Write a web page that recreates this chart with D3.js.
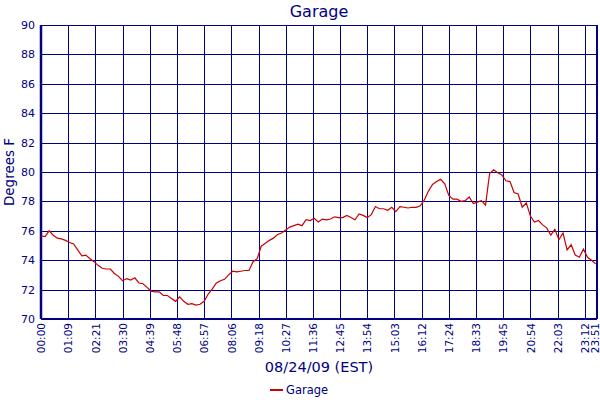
<!DOCTYPE html>
<html>
<head>
<meta charset="utf-8">
<script src="https://cdn.jsdelivr.net/npm/d3@7"></script>
<style>
  body { margin: 0; background: #fff; }
  text { font-family: "DejaVu Sans", Verdana, sans-serif; fill: #000080; }
</style>
</head>
<body>
<div id="chart"></div>
<script>
// temperature readings, one value every 3 samples (sample index = 3 * i)
const temps = [
    75.65, 75.6, 76.0, 75.7, 75.5, 75.45, 75.35, 75.2, 75.1, 74.7,
    74.3, 74.35, 74.1, 73.9, 73.65, 73.45, 73.4, 73.4, 73.1, 72.9,
    72.6, 72.75, 72.65, 72.8, 72.45, 72.4, 72.15, 71.9, 71.85, 71.85,
    71.6, 71.6, 71.4, 71.2, 71.5, 71.2, 71.0, 71.05, 70.95, 71.0,
    71.2, 71.7, 72.05, 72.45, 72.6, 72.7, 73.0, 73.25, 73.2, 73.25,
    73.3, 73.3, 73.9, 74.1, 74.95, 75.15, 75.35, 75.5, 75.75, 75.85,
    76.05, 76.25, 76.35, 76.45, 76.35, 76.75, 76.7, 76.85, 76.6, 76.8,
    76.75, 76.8, 76.95, 76.9, 76.9, 77.05, 76.9, 76.75, 77.15, 77.05,
    76.9, 77.1, 77.65, 77.5, 77.5, 77.4, 77.6, 77.3, 77.65, 77.6,
    77.55, 77.6, 77.6, 77.7, 78.1, 78.7, 79.15, 79.35, 79.5, 79.2,
    78.4, 78.15, 78.15, 78.0, 78.05, 78.3, 77.85, 77.95, 78.05, 77.75,
    79.9, 80.15, 79.95, 79.8, 79.4, 79.35, 78.6, 78.5, 77.6, 77.9,
    77.0, 76.6, 76.7, 76.4, 76.2, 75.7, 76.1, 75.4, 75.85, 74.7,
    75.05, 74.35, 74.2, 74.75, 74.2, 74.0, 73.75
];
const sampleStep = 3;
const lastSample = 409;

const tickSamples = [0, 20, 40, 60, 80, 100, 120, 140, 160, 180, 200,
    220, 240, 260, 280, 300, 320, 340, 360, 380, 400, 409];
const tickLabels = ["00:00", "01:09", "02:21", "03:30", "04:39", "05:48", "06:57",
    "08:06", "09:18", "10:27", "11:36", "12:45", "13:54", "15:03", "16:12",
    "17:24", "18:33", "19:45", "20:54", "22:03", "23:12", "23:51"];
const yTicks = [70, 72, 74, 76, 78, 80, 82, 84, 86, 88, 90];

const navy = "#000080";
const margin = {top: 25, right: 3, bottom: 81, left: 41};
const W = 600, H = 400;
const width = W - margin.left - margin.right;
const height = H - margin.top - margin.bottom;

const svg = d3.select("#chart").append("svg")
    .attr("width", W)
    .attr("height", H);

const g = svg.append("g")
    .attr("transform", `translate(${margin.left},${margin.top})`);

const x = d3.scaleLinear().domain([0, lastSample]).range([0, width]);
const y = d3.scaleLinear().domain([70, 90]).range([height, 0]);

// horizontal grid + y labels
const yAxis = g.append("g")
    .call(d3.axisLeft(y).tickValues(yTicks).tickSize(-width).tickSizeOuter(0).tickPadding(6));
yAxis.select(".domain").remove();
yAxis.selectAll("line").attr("stroke", navy).attr("shape-rendering", "crispEdges");
yAxis.selectAll("text").style("font-size", "11px").attr("fill", navy);

// vertical grid + x labels
const xAxis = g.append("g")
    .attr("transform", `translate(0,${height})`)
    .call(d3.axisBottom(x).tickValues(tickSamples)
        .tickFormat((d, i) => tickLabels[i])
        .tickSize(-height).tickSizeOuter(0));
xAxis.select(".domain").remove();
xAxis.selectAll("line").attr("stroke", navy).attr("shape-rendering", "crispEdges");
xAxis.selectAll("text")
    .style("font-size", "10.5px")
    .attr("fill", navy)
    .attr("text-anchor", "end")
    .attr("transform", "rotate(-90)")
    .attr("x", -4)
    .attr("y", (d, i) => i === tickSamples.length - 1 ? -2 : 0)
    .attr("dy", "0.35em");

// frame: thicker left, bottom and right edges
g.append("line").attr("x1", 0).attr("x2", width).attr("y1", 0).attr("y2", 0)
    .attr("stroke", navy).attr("shape-rendering", "crispEdges");
g.append("line").attr("x1", 0).attr("x2", 0).attr("y1", 0).attr("y2", height)
    .attr("stroke", navy).attr("stroke-width", 2.5);
g.append("line").attr("x1", width).attr("x2", width).attr("y1", 0).attr("y2", height)
    .attr("stroke", navy).attr("stroke-width", 2);
g.append("line").attr("x1", 0).attr("x2", width).attr("y1", height).attr("y2", height)
    .attr("stroke", navy).attr("stroke-width", 2);

// data line
const line = d3.line()
    .x((d, i) => x(i * sampleStep))
    .y(d => y(d));

g.append("path")
    .datum(temps)
    .attr("fill", "none")
    .attr("stroke", "#cc0000")
    .attr("stroke-width", 1.2)
    .attr("d", line);

// titles
svg.append("text")
    .attr("x", margin.left + width / 2)
    .attr("y", 17)
    .attr("text-anchor", "middle")
    .style("font-size", "16px")
    .text("Garage");

svg.append("text")
    .attr("transform", `translate(14,${margin.top + height / 2}) rotate(-90)`)
    .attr("text-anchor", "middle")
    .style("font-size", "13.5px")
    .text("Degrees F");

svg.append("text")
    .attr("x", margin.left + width / 2)
    .attr("y", 372)
    .attr("text-anchor", "middle")
    .style("font-size", "14.5px")
    .text("08/24/09 (EST)");

// legend
const legend = svg.append("g").attr("transform", "translate(270,390)");
legend.append("line")
    .attr("x1", 0).attr("x2", 13).attr("y1", 0).attr("y2", 0)
    .attr("stroke", "#cc0000").attr("stroke-width", 2);
legend.append("text")
    .attr("x", 16).attr("y", 0).attr("dy", "0.35em")
    .style("font-size", "11.5px")
    .text("Garage");
</script>
</body>
</html>
